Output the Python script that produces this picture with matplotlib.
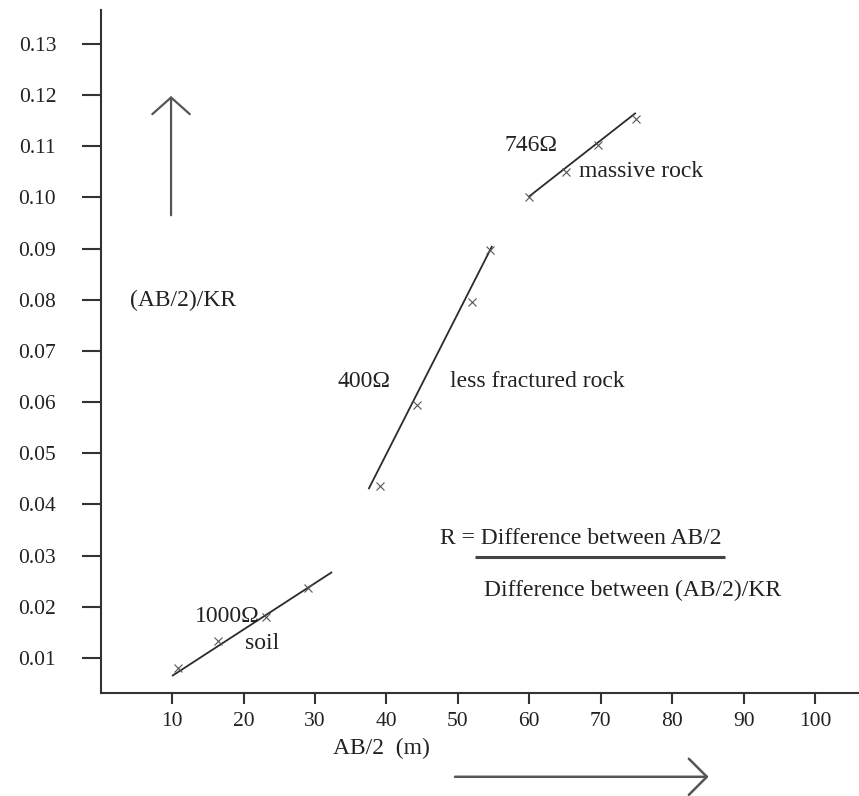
import matplotlib
matplotlib.use("Agg")
import matplotlib.pyplot as plt

plt.rcParams['font.family'] = ['Liberation Serif', 'DejaVu Serif']

# measured points (AB/2 in m, (AB/2)/KR)
soil_x = [10.8, 16.4, 23.2, 29.0]
soil_y = [0.0081, 0.0133, 0.0180, 0.0237]
soil_line_x = [10.0, 32.4]
soil_line_y = [0.0065, 0.0268]

lfr_x = [39.1, 44.3, 52.0, 54.5]
lfr_y = [0.0437, 0.0594, 0.0795, 0.0897]
lfr_line_x = [37.5, 54.8]
lfr_line_y = [0.0430, 0.0905]

mr_x = [59.9, 65.1, 69.6, 75.0]
mr_y = [0.1001, 0.1049, 0.1102, 0.1153]
mr_line_x = [59.9, 74.9]
mr_line_y = [0.1001, 0.1165]

x_ticks = [10, 20, 30, 40, 50, 60, 70, 80, 90, 100]
y_ticks = [0.01, 0.02, 0.03, 0.04, 0.05, 0.06, 0.07, 0.08, 0.09, 0.10, 0.11, 0.12, 0.13]
y_tick_labels = ["0.01", "0.02", "0.03", "0.04", "0.05", "0.06", "0.07",
                 "0.08", "0.09", "0.10", "0.11", "0.12", "0.13"]

W, H = 859, 796
fig = plt.figure(figsize=(W / 100, H / 100), dpi=100)
ax = fig.add_axes([100.6 / W, (H - 693) / H, (858 - 100.6) / W, (693 - 10) / H])
ax.set_xlim(0, 106)
ax.set_ylim(0.00317, 0.1366)

lc = '#2b2b2b'
for sp in ['top', 'right']:
    ax.spines[sp].set_visible(False)
for sp in ['left', 'bottom']:
    ax.spines[sp].set_linewidth(1.5)
    ax.spines[sp].set_color('#333333')

ax.set_xticks(x_ticks)
ax.set_xticklabels([str(v) for v in x_ticks])
ax.set_yticks(y_ticks)
ax.set_yticklabels(y_tick_labels)
ax.tick_params(axis='y', direction='out', length=14, width=1.5, color='#333333',
               pad=18, labelsize=15.5, labelcolor='#222222')
ax.tick_params(axis='x', direction='out', length=8, width=1.5, color='#333333',
               pad=6, labelsize=15.5, labelcolor='#222222')

for lx, ly, px, py in [(soil_line_x, soil_line_y, soil_x, soil_y),
                       (lfr_line_x, lfr_line_y, lfr_x, lfr_y),
                       (mr_line_x, mr_line_y, mr_x, mr_y)]:
    ax.plot(lx, ly, color=lc, lw=1.3, solid_capstyle='butt')
    ax.plot(px, py, linestyle='none', marker='x', ms=6, mew=0.8, color='#555555')

fs = 17
tc = '#222222'
ax.text(60.2, 0.1102, '746Ω', ha='center', va='center', fontsize=fs, color=tc)
ax.text(66.9, 0.1050, 'massive rock', ha='left', va='center', fontsize=fs, color=tc)
ax.text(36.8, 0.0641, '400Ω', ha='center', va='center', fontsize=fs, color=tc)
ax.text(48.9, 0.0641, 'less fractured rock', ha='left', va='center', fontsize=fs, color=tc)
ax.text(17.8, 0.0182, '1000Ω', ha='center', va='center', fontsize=fs, color=tc)
ax.text(20.2, 0.0129, 'soil', ha='left', va='center', fontsize=fs, color=tc)
ax.text(4.1, 0.0798, '(AB/2)/KR', ha='left', va='center', fontsize=fs, color=tc)

ax.text(47.5, 0.0334, 'R = Difference between AB/2', ha='left', va='center',
        fontsize=fs, color=tc)
ax.plot([52.4, 87.4], [0.0297, 0.0297], color='#444444', lw=2.2, solid_capstyle='butt')
ax.text(53.6, 0.0233, 'Difference between (AB/2)/KR', ha='left', va='center',
        fontsize=fs, color=tc)

ax.text(32.5, -0.0076, 'AB/2  (m)', ha='left', va='center', fontsize=fs, color=tc,
        clip_on=False)

arrow_c = '#555555'
ax.annotate('', xy=(9.86, 0.1198), xytext=(9.86, 0.0965),
            arrowprops=dict(arrowstyle='->,head_length=1.2,head_width=1.35',
                            color=arrow_c, lw=1.6, shrinkA=0, shrinkB=0),
            annotation_clip=False)
ax.annotate('', xy=(85.1, -0.0132), xytext=(49.6, -0.0132),
            arrowprops=dict(arrowstyle='->,head_length=1.3,head_width=1.3',
                            color=arrow_c, lw=1.8, shrinkA=0, shrinkB=0),
            annotation_clip=False)

fig.savefig('out.png', dpi=100)
